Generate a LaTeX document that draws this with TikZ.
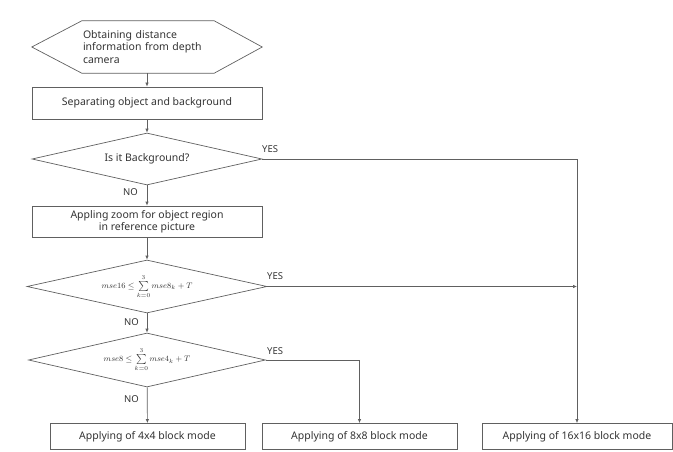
\documentclass[tikz,border=0pt]{standalone}
\usepackage{fontspec}
\setmainfont{Noto Sans}
\usetikzlibrary{shapes.geometric,arrows.meta}
\definecolor{linegray}{HTML}{606060}
\definecolor{textgray}{HTML}{333333}
\tikzset{
  box/.style={draw=linegray, line width=0.7pt, rectangle, inner sep=1pt, align=center, text=textgray},
  cond/.style={draw=linegray, line width=0.7pt, diamond, shape aspect=4.4, inner sep=0pt, text=textgray},
  lbl/.style={inner sep=0pt, text=textgray, font=\fontsize{9.5}{10}\selectfont},
  line/.style={draw=linegray, line width=0.7pt},
  arr/.style={line, -{Latex[length=4pt,width=3.5pt]}}
}
\begin{document}
\begin{tikzpicture}[x=1pt, y=-1pt, font=\fontsize{10.5}{12.5}\selectfont]
  \useasboundingbox (0,0) rectangle (673,452);
  \node[inner sep=0pt, minimum width=230pt, minimum height=52pt, text width=128pt, align=left, text=textgray] (Dist) at (147,47)
    {Obtaining distance\\information from depth\\camera};
  \draw[line] (Dist.west) -- ([xshift=50pt]Dist.north west) -- ([xshift=-48pt]Dist.north east)
    -- (Dist.east) -- ([xshift=-48pt]Dist.south east) -- ([xshift=50pt]Dist.south west) -- cycle;
  \node[box, minimum width=230pt, minimum height=32pt] (Sep) at (147,103) {Separating object and background};
  \node[cond, minimum width=230pt, minimum height=52pt] (Bg) at (147,159) {Is it Background?};
  \node[box, minimum width=230pt, minimum height=31pt] (Zoom) at (147,221.5) {Appling zoom for object region\\in reference picture};
  \node[cond, minimum width=240pt, minimum height=53pt, font=\fontsize{8.5}{9}\selectfont] (M16) at (147,286.5)
    {$mse16 \le \sum\limits_{k=0}^{3} mse8_k + T$};
  \node[cond, minimum width=237pt, minimum height=54pt, font=\fontsize{8.5}{9}\selectfont] (M8) at (147,360)
    {$mse8 \le \sum\limits_{k=0}^{3} mse4_k + T$};
  \node[box, minimum width=195pt, minimum height=26pt] (B4) at (147.5,436.5) {Applying of 4x4 block mode};
  \node[box, minimum width=195pt, minimum height=26pt] (B8) at (359.5,436.5) {Applying of 8x8 block mode};
  \node[box, minimum width=190pt, minimum height=26pt] (B16) at (577,436.5) {Applying of 16x16 block mode};
  % branch labels
  \node[lbl, anchor=west] (BgYes) at (262,149) {YES};
  \node[lbl, anchor=west] (BgNo) at (123,192) {NO};
  \node[lbl, anchor=west] (M16Yes) at (267,276) {YES};
  \node[lbl, anchor=west] (M16No) at (124,322) {NO};
  \node[lbl, anchor=west] (M8Yes) at (267,351) {YES};
  \node[lbl, anchor=west] (M8No) at (124,399) {NO};
  % connectors
  \draw[arr] (Dist) -- (Sep);
  \draw[arr] (Sep) -- (Bg);
  \draw[arr] (Bg) -- (Zoom);
  \draw[arr] (Zoom) -- (M16);
  \draw[arr] (M16) -- (M8);
  \draw[arr] (M8) -- (B4);
  \draw[arr] (M8.east) -| (B8.north);
  \draw[arr] (Bg.east) -| (B16.north);
  \draw[arr] (M16.east) -- (M16.east -| B16.north);
\end{tikzpicture}
\end{document}
